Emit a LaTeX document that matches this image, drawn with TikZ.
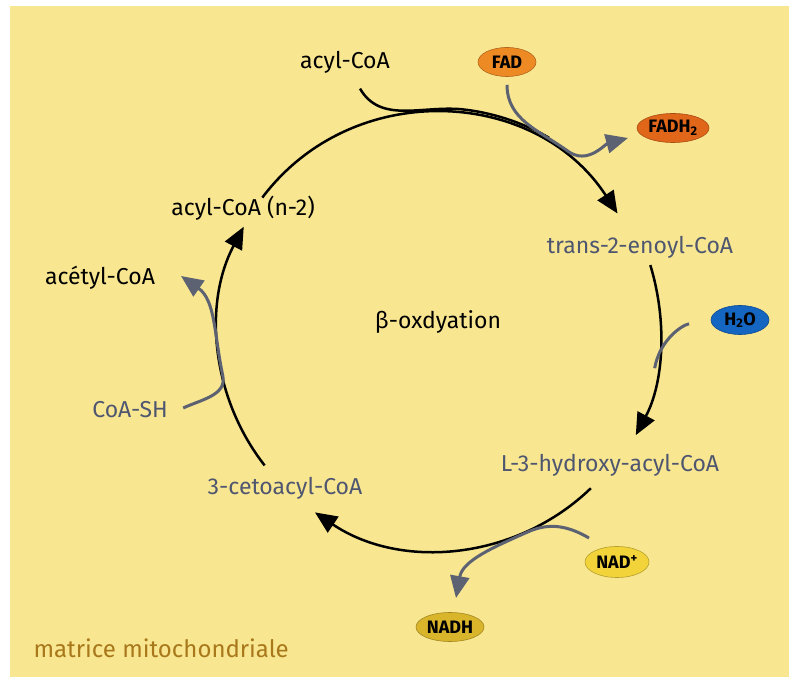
\documentclass[tikz,border=0pt]{standalone}
\usepackage{fontspec}
\setmainfont{Fira Sans}
\usetikzlibrary{arrows.meta,shapes.geometric,calc}

\definecolor{bgyellow}{HTML}{F8E691}
\definecolor{slate}{HTML}{4E5670}
\definecolor{greyarrow}{HTML}{5C6272}
\definecolor{fadorange}{HTML}{EE8A24}
\definecolor{fadhorange}{HTML}{E0661A}
\definecolor{waterblue}{HTML}{1566C0}
\definecolor{nadyellow}{HTML}{F2D43A}
\definecolor{nadhyellow}{HTML}{D9B52C}
\definecolor{matrixbrown}{HTML}{A8781A}

\tikzset{
  metab/.style={font=\fontsize{23}{26}\selectfont, text=slate},
  substrate/.style={font=\fontsize{23}{26}\selectfont, text=black},
  cofactor/.style={ellipse, fill=#1, draw=#1!75!black, line width=0.6pt, inner sep=0pt,
    minimum height=29pt, font=\fontsize{18}{20}\selectfont\bfseries},
  turn/.style={line width=2.5pt, -{Triangle[length=22pt,width=19pt]}},
  entry/.style={line width=2.5pt},
  sidegrey/.style={line width=3pt, draw=greyarrow},
  sidearrow/.style={sidegrey, -{Triangle[length=22pt,width=19pt]}},
}

\begin{document}
\begin{tikzpicture}[x=1pt,y=1pt]
  \useasboundingbox (0,0) rectangle (789,677);
  \fill[bgyellow] (10,0) rectangle (789,671);
  % Define nodes
  \node[substrate] (acyl) at (345,615) {acyl-CoA};
  \node[cofactor=fadorange, minimum width=58pt] (fad) at (507,615) {FAD};
  \node[cofactor=fadhorange, minimum width=72pt] (fadh) at (673,549) {FADH\textsubscript{2}};
  \node[metab] (enoyl) at (640,430) {trans-2-enoyl-CoA};
  \node[cofactor=waterblue, minimum width=58pt] (water) at (740,357) {H\textsubscript{2}O};
  \node[metab] (hydroxy) at (610,212) {L-3-hydroxy-acyl-CoA};
  \node[cofactor=nadyellow, minimum width=64pt, minimum height=31pt] (nad) at (617,115) {NAD\textsuperscript{+}};
  \node[cofactor=nadhyellow, minimum width=68pt] (nadh) at (450,50) {NADH};
  \node[metab] (ceto) at (285,189) {3-cetoacyl-CoA};
  \node[metab] (coash) at (130,267) {CoA-SH};
  \node[substrate] (acetyl) at (100,399) {acétyl-CoA};
  \node[substrate] (acyln) at (243,469) {acyl-CoA (n-2)};
  \node[substrate] (beta) at (438,355) {β-oxdyation};
  \node[anchor=west, text=matrixbrown, font=\fontsize{24}{27}\selectfont] (matrix) at (30,29) {matrice mitochondriale};
  % Points on the cycle
  \coordinate (ctr) at (438,347);
  \coordinate (c1) at ($(ctr)+(143:220)$);
  \coordinate (c2) at ($(ctr)+(33:214)$);
  \coordinate (c3) at ($(ctr)+(17:222)$);
  \coordinate (c4) at ($(ctr)+(-28:224)$);
  \coordinate (c5) at ($(ctr)+(-46:220)$);
  \coordinate (c6) at ($(ctr)+(-124:220)$);
  \coordinate (c7) at ($(ctr)+(218:220)$);
  \coordinate (c8) at ($(ctr)+(152:220)$);
  \coordinate (aj) at ($(ctr)+(84:222)$);
  \coordinate (fj) at ($(ctr)+(54:221)$);
  \coordinate (hj) at ($(ctr)+(-10:220)$);
  \coordinate (nj) at ($(ctr)+(-66:221)$);
  \coordinate (cj) at ($(ctr)+(192:220)$);
  \coordinate (fadtip) at (628,539);
  \coordinate (nadtip) at (456,79);
  \coordinate (acetyltip) at (181,401);
  % Connect nodes
  \draw[turn] (c1) to[out=53,in=123,looseness=1.08] (c2);
  \draw[turn] (c3) to[out=-73,in=62,looseness=0.89] (c4);
  \draw[turn] (c5) to[out=-136,in=-34,looseness=0.96] (c6);
  \draw[turn] (c7) to[out=128,in=242,looseness=0.93] (c8);
  \draw[entry] ([xshift=15pt,yshift=-12pt]acyl.south) to[out=-60,in=175] (aj)
    arc[start angle=84,end angle=60,radius=222];
  \draw[sidearrow] ([yshift=-8pt]fad.south) to[out=-90,in=144] (fj) to[out=-36,in=195] (fadtip);
  \draw[sidegrey, shorten <=22pt] (water.west) to[out=190,in=80] (hj);
  \draw[sidearrow] ([xshift=-28pt,yshift=24pt]nad.center) to[out=150,in=24] (nj) to[out=-156,in=80] (nadtip);
  \draw[sidearrow] ([xshift=12pt,yshift=2pt]coash.east) to[out=25,in=282] (cj) to[out=102,in=-35] (acetyltip);
\end{tikzpicture}
\end{document}
